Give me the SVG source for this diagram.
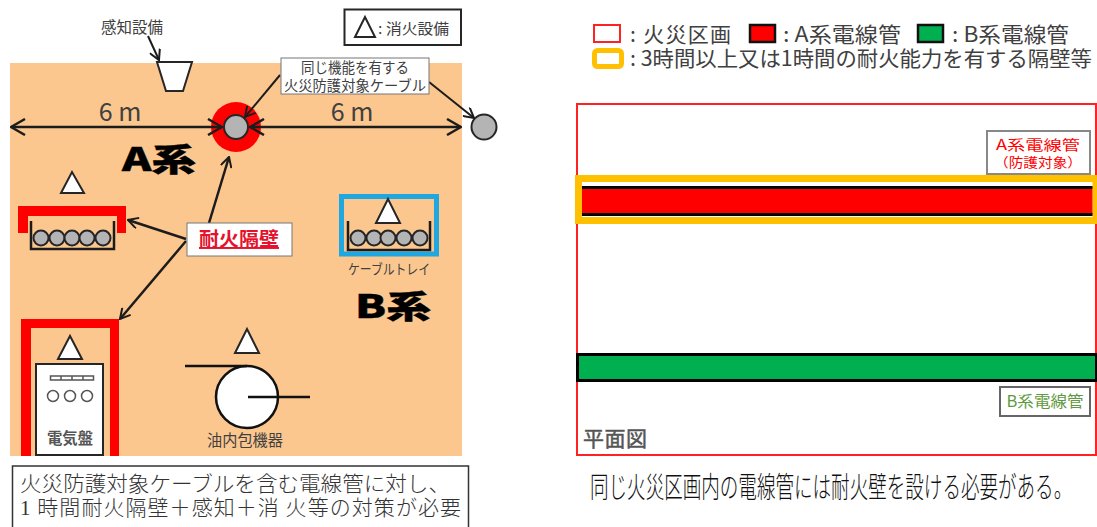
<svg xmlns="http://www.w3.org/2000/svg" width="1097" height="527" viewBox="0 0 1097 527">
<style>
text{font-family:"Noto Sans CJK JP","Noto Sans",sans-serif;fill:#404040}
.c{text-anchor:middle}
.s{stroke:#262626;stroke-width:2;fill:#fff}
.g{stroke:#262626;stroke-width:2;fill:#b4b4b4}
.w{fill:#f00}
.l{stroke:#1c1c1c;stroke-width:2.5;fill:none}
.big{font-weight:900;fill:#000;stroke:#000;stroke-width:.4}
.ser{font-weight:300;fill:#333;font-size:21px}
</style>
<defs>
<marker id="a" viewBox="0 0 12 12" refX="11" refY="6" markerWidth="12" markerHeight="12" markerUnits="userSpaceOnUse" orient="auto-start-reverse"><path d="M1 0.5L11 6L1 11.5" fill="none" stroke="#1c1c1c" stroke-width="2"/></marker>
<marker id="d" viewBox="0 0 18 18" refX="17" refY="9" markerWidth="18" markerHeight="18" markerUnits="userSpaceOnUse" orient="auto-start-reverse"><path d="M3 1L17 9L3 17" fill="none" stroke="#1c1c1c" stroke-width="2.5"/></marker>
<g id="ball"><circle r="7.5" class="g"/></g>
</defs>
<rect width="1097" height="527" fill="#fff"/>
<rect id="room" x="10" y="63" width="452" height="393" fill="#fbc78f"/>

<g id="legend-extinguisher">
<rect x="344.500" y="9.500" width="116.500" height="35.500" fill="#fff" stroke="#262626" stroke-width="2"/>
<path d="M355 37L365 17L375 37Z" fill="#fff" stroke="#262626" stroke-width="2"/>
<text x="378" y="34" font-size="15" textLength="71" lengthAdjust="spacingAndGlyphs">: 消火設備</text>
</g>

<g id="detector">
<text x="132" y="33" class="c" font-size="15.500" textLength="62" lengthAdjust="spacingAndGlyphs">感知設備</text>
<path d="M157 62H192L183 91H166Z" class="s"/>
</g>

<g id="cable-a">
<circle cx="236" cy="127" r="25" class="w"/>
<circle cx="236" cy="127" r="12" class="g"/>
</g>
<circle id="cable-b" cx="484" cy="127" r="12.500" class="g"/>

<g id="tray-a">
<path d="M61 193L72 172L84 193Z" class="s"/>
<path d="M18 233V206H126V233H117V216H28V233Z" class="w"/>
<path d="M31 221V249H114V221" class="l"/>
<use href="#ball" x="41" y="238"/><use href="#ball" x="57" y="238"/><use href="#ball" x="72" y="238"/><use href="#ball" x="87" y="238"/><use href="#ball" x="103" y="238"/>
</g>

<g id="tray-b">
<rect x="341.500" y="196.500" width="95" height="57.500" fill="none" stroke="#1ea7e0" stroke-width="5"/>
<path d="M376 223L388 199L400 223Z" class="s"/>
<path d="M348 221V250H430V221" class="l"/>
<use href="#ball" x="358" y="238"/><use href="#ball" x="374" y="238"/><use href="#ball" x="388" y="238"/><use href="#ball" x="404" y="238"/><use href="#ball" x="420" y="238"/>
<text x="389" y="274" class="c" font-size="14" textLength="82" lengthAdjust="spacingAndGlyphs">ケーブルトレイ</text>
</g>

<g id="panel">
<path d="M21 456V319H119V456H110V328H31V456Z" class="w"/>
<path d="M58 359L70 336L82 359Z" class="s"/>
<rect x="36" y="364" width="67" height="91" class="s"/>
<g fill="#fff" stroke="#555" stroke-width="1.500">
<rect x="50.500" y="376" width="43" height="4"/><path d="M61 376V380M72 376V380M83 376V380"/>
<circle cx="53" cy="396" r="5.500"/><circle cx="70" cy="396" r="5.500"/><circle cx="87" cy="396" r="5.500"/>
</g>
<text x="70" y="444" class="c" font-size="15.500" font-weight="700" style="fill:#555" textLength="46" lengthAdjust="spacingAndGlyphs">電気盤</text>
</g>

<g id="oil-equipment">
<path d="M235 353L247 329L259 353Z" class="s"/>
<circle cx="247" cy="397" r="31" fill="#fff" stroke="#111" stroke-width="2.500"/>
<path d="M185 366H247M248 397H310" stroke="#111" stroke-width="2.500" fill="none"/>
<text x="245" y="446" class="c" font-size="15.500" textLength="76" lengthAdjust="spacingAndGlyphs">油内包機器</text>
</g>

<g id="connectors">
<path d="M11 127H222" class="l" marker-start="url(#d)" marker-end="url(#d)"/>
<path d="M250 127H461" class="l" marker-start="url(#d)" marker-end="url(#d)"/>
<path d="M148 36L159 60" stroke="#1c1c1c" stroke-width="2" fill="none" marker-end="url(#a)"/>
<path d="M280 75L245 117" stroke="#1c1c1c" stroke-width="2" fill="none" marker-end="url(#a)"/>
<path d="M429 82L474 118" stroke="#1c1c1c" stroke-width="2" fill="none" marker-end="url(#a)"/>
<path d="M209 223L229 157" class="l" marker-end="url(#a)"/>
<path d="M186 239L128 220" class="l" marker-end="url(#a)"/>
<path d="M186 241L120 319" class="l" marker-end="url(#a)"/>
</g>

<g id="labels-left">
<text x="120" y="121" class="c" font-size="25" font-family="Liberation Sans">6 m</text>
<text x="352" y="121" class="c" font-size="25" font-family="Liberation Sans">6 m</text>
<text x="122" y="171" class="big" font-size="32" textLength="74" lengthAdjust="spacingAndGlyphs">A系</text>
<text x="355" y="318" class="big" font-size="32" textLength="76" lengthAdjust="spacingAndGlyphs">B系</text>
</g>

<g id="label-same-function">
<rect x="281" y="58" width="148" height="36" fill="#fff" stroke="#777" stroke-width="1"/>
<text x="355" y="73" class="c" font-size="14.500" textLength="108" lengthAdjust="spacingAndGlyphs">同じ機能を有する</text>
<text x="355" y="91" class="c" font-size="14.500" textLength="142" lengthAdjust="spacingAndGlyphs">火災防護対象ケーブル</text>
</g>

<g id="label-fire-wall">
<rect x="187" y="223" width="105" height="33" fill="#fff" stroke="#777" stroke-width="1"/>
<text x="239" y="246" class="c" font-size="19.500" font-weight="700" text-decoration="underline" style="fill:#e5122d" textLength="80" lengthAdjust="spacingAndGlyphs">耐火隔壁</text>
</g>

<g id="note-left">
<rect x="12.500" y="466" width="456" height="70" fill="#fff" stroke="#333" stroke-width="1.500"/>
<text x="20" y="491" class="ser" textLength="430" lengthAdjust="spacingAndGlyphs">火災防護対象ケーブルを含む電線管に対し、</text>
<text x="20" y="515" class="ser" textLength="441" lengthAdjust="spacing"><tspan font-family="Liberation Serif">1</tspan> 時間耐火隔壁＋感知＋消 火等の対策が必要</text>
</g>

<g id="legend-right">
<rect x="594" y="25" width="26" height="17" fill="#fff" stroke="#f22" stroke-width="2"/>
<text x="630" y="42" font-size="21" textLength="101">: 火災区画</text>
<rect x="750" y="25" width="25" height="17" fill="#f00" stroke="#111" stroke-width="2.500"/>
<text x="783" y="42" font-size="21" textLength="118" lengthAdjust="spacingAndGlyphs">: A系電線管</text>
<rect x="918" y="25" width="25" height="17" fill="#00b050" stroke="#111" stroke-width="2.500"/>
<text x="952" y="42" font-size="21" textLength="117" lengthAdjust="spacingAndGlyphs">: B系電線管</text>
<rect x="594.500" y="50.500" width="27" height="16" rx="3" fill="#fff" stroke="#ffc000" stroke-width="5"/>
<text x="630" y="66" font-size="21" textLength="462" lengthAdjust="spacingAndGlyphs">: 3時間以上又は1時間の耐火能力を有する隔壁等</text>
</g>

<g id="fire-area">
<rect x="577" y="104" width="519" height="351" fill="#fff" stroke="#f22" stroke-width="2"/>
<text x="583" y="446" font-size="21" style="fill:#555" stroke="#555" stroke-width=".5" textLength="64">平面図</text>
</g>

<g id="pipe-a">
<path d="M575 175H1097V224H575Z M582 182V217H1092.500V182Z" fill="#ffc000" fill-rule="evenodd"/>
<rect x="582" y="189" width="510.500" height="25" fill="#f00"/>
<path d="M582 187.500H1092.500M582 214.500H1092.500" stroke="#000" stroke-width="3" fill="none"/>
</g>
<g id="label-pipe-a">
<rect x="987" y="131" width="103" height="43" fill="#fff" stroke="#888" stroke-width="2"/>
<text x="1038" y="150" class="c" font-size="14" style="fill:#f00" textLength="84" lengthAdjust="spacingAndGlyphs">A系電線管</text>
<text x="1038" y="167" class="c" font-size="13" style="fill:#f00" textLength="88" lengthAdjust="spacingAndGlyphs">（防護対象）</text>
</g>

<g id="pipe-b">
<rect x="577.500" y="354.500" width="519" height="26" fill="#00b050" stroke="#000" stroke-width="3"/>
</g>
<g id="label-pipe-b">
<rect x="1000" y="387" width="90" height="29" fill="#fff" stroke="#666" stroke-width="2"/>
<text x="1045" y="407" class="c" font-size="15.500" style="fill:#5f9a3f" textLength="77" lengthAdjust="spacingAndGlyphs">B系電線管</text>
</g>

<text id="caption" transform="translate(590 498) scale(.64 1)" font-size="29" font-weight="300" style="fill:#111">同じ火災区画内の電線管には耐火壁を設ける必要がある。</text>
</svg>
